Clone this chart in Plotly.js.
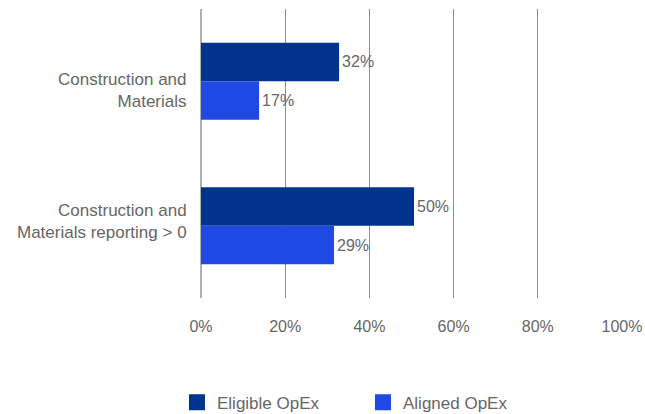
<!DOCTYPE html>
<html>
<head>
<meta charset="utf-8">
<script src="https://cdn.plot.ly/plotly-3.0.1.min.js"></script>
<style>
html,body{margin:0;padding:0;background:#fff;}
#chart{width:645px;height:414px;}
</style>
</head>
<body>
<div id="chart"></div>
<script>
// ---- data ----
var categories = ["Construction and<br>Materials", "Construction and<br>Materials reporting > 0"];
var seriesNames = ["Eligible OpEx", "Aligned OpEx"];
var eligibleValues = [32.8, 50.6];
var alignedValues = [13.8, 31.6];
var eligibleLabels = ["32%", "50%"];
var alignedLabels = ["17%", "29%"];
var xTickValues = [0, 20, 40, 60, 80, 100];
var xTickLabels = ["0%", "20%", "40%", "60%", "80%", "100%"];

// ---- styles ----
var colors = ["#00338D", "#1E49E2"];
var textColor = "#666666";
var fontFamily = "Liberation Sans, Arial, sans-serif";
var labelShift = [-9, 4];

var traces = [
  {
    type: "bar", orientation: "h", name: seriesNames[0],
    y: categories, x: eligibleValues, text: eligibleLabels,
    textposition: "outside", texttemplate: "%{text}", cliponaxis: false,
    textfont: {color: textColor, size: 16, family: fontFamily},
    marker: {color: colors[0]}, showlegend: false, hoverinfo: "skip"
  },
  {
    type: "bar", orientation: "h", name: seriesNames[1],
    y: categories, x: alignedValues, text: alignedLabels,
    textposition: "outside", texttemplate: "%{text}", cliponaxis: false,
    textfont: {color: textColor, size: 16, family: fontFamily},
    marker: {color: colors[1]}, showlegend: false, hoverinfo: "skip"
  },
  {
    type: "scatter", mode: "markers", name: seriesNames[0],
    x: [null], y: [null],
    marker: {symbol: "square", size: 16, color: colors[0]}, showlegend: true
  },
  {
    type: "scatter", mode: "markers", name: seriesNames[1],
    x: [null], y: [null],
    marker: {symbol: "square", size: 16, color: colors[1]}, showlegend: true
  }
];

var annotations = categories.map(function (c, i) {
  return {
    xref: "paper", yref: "y", x: 0, y: c, text: c,
    xanchor: "right", yanchor: "middle", align: "right",
    xshift: -12, yshift: labelShift[i], showarrow: false,
    font: {color: textColor, size: 17, family: fontFamily}
  };
});

var layout = {
  width: 645, height: 414,
  margin: {l: 201, r: 23, t: 9, b: 116, pad: 0, autoexpand: false},
  paper_bgcolor: "#ffffff", plot_bgcolor: "#ffffff",
  font: {family: fontFamily, size: 16, color: textColor},
  barmode: "group", bargap: 0.466, bargroupgap: 0,
  xaxis: {
    range: [0, 100], tickvals: xTickValues, ticktext: xTickLabels,
    showgrid: true, gridcolor: "#8c8c8c", gridwidth: 1,
    zeroline: true, zerolinecolor: "#b0b0b0", zerolinewidth: 1.5,
    showline: false, ticks: "", ticklabelstandoff: 17,
    tickfont: {color: textColor, size: 16, family: fontFamily},
    fixedrange: true, automargin: false
  },
  yaxis: {
    type: "category", categoryorder: "array", categoryarray: categories,
    autorange: "reversed", showticklabels: false, showgrid: false,
    zeroline: false, showline: false, ticks: "", fixedrange: true, automargin: false
  },
  annotations: annotations,
  showlegend: true,
  legend: {
    orientation: "h", xref: "container", x: 0.2744, xanchor: "left",
    yref: "container", y: 0.0705, yanchor: "top",
    font: {color: textColor, size: 17, family: fontFamily},
    itemsizing: "trace", entrywidth: 141, itemclick: false, itemdoubleclick: false,
    bgcolor: "rgba(0,0,0,0)", borderwidth: 0
  }
};

Plotly.newPlot("chart", traces, layout, {displayModeBar: false, staticPlot: true});
</script>
</body>
</html>
